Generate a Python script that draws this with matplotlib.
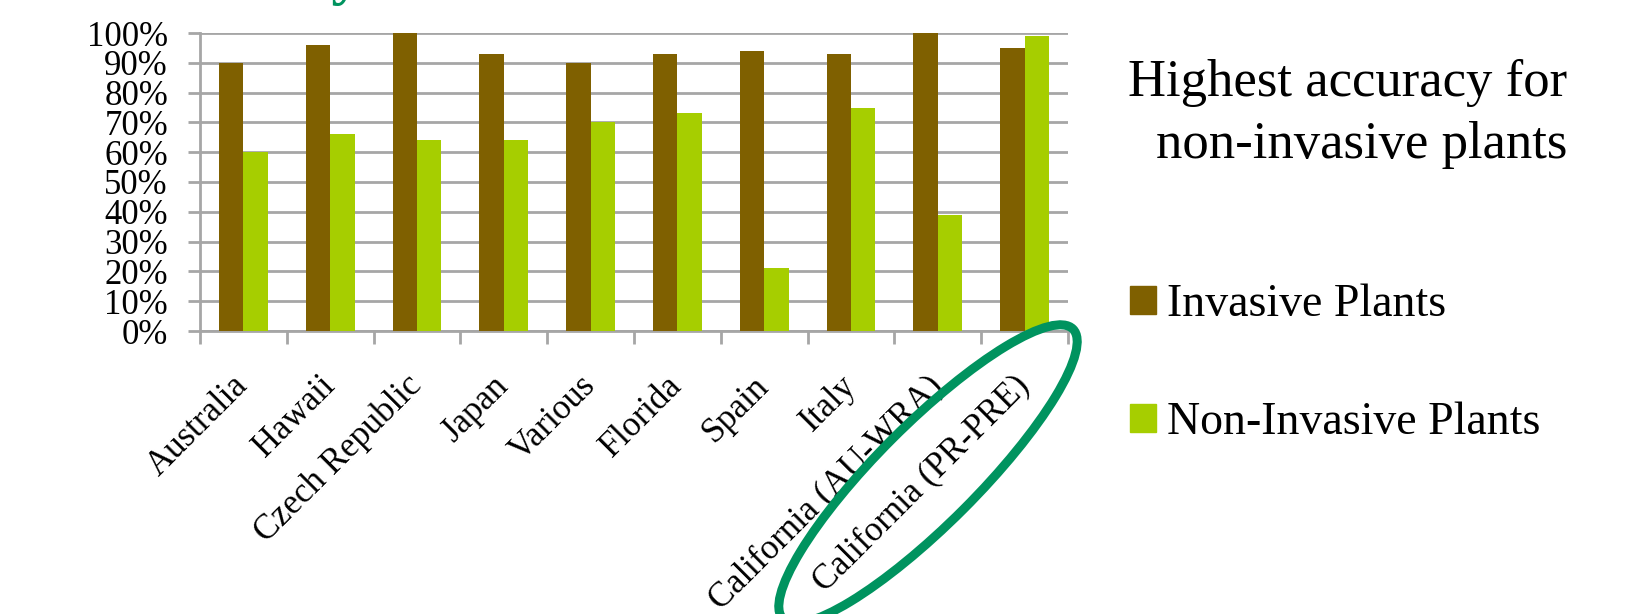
import numpy as np
import matplotlib.pyplot as plt
from matplotlib.patches import Ellipse, Patch
from matplotlib.transforms import IdentityTransform

regions = ["Australia", "Hawaii", "Czech Republic", "Japan", "Various",
           "Florida", "Spain", "Italy", "California (AU-WRA)",
           "California (PR-PRE)"]
invasive = [90, 96, 100, 93, 90, 93, 94, 93, 100, 95]
non_invasive = [60, 66, 64, 64, 70, 73, 21, 75, 39, 99]
y_ticks = [0, 10, 20, 30, 40, 50, 60, 70, 80, 90, 100]

brown = "#7F6000"
lime = "#A6CE00"
grid_gray = "#A6A6A6"
ring_green = "#00935F"

plt.rcParams["font.family"] = ["Liberation Serif", "DejaVu Serif"]

W, H = 1627, 614
fig = plt.figure(figsize=(W / 100, H / 100), dpi=100)
ax = fig.add_axes([200 / W, (H - 331) / H, 868 / W, 298 / H])

x = np.arange(len(regions))
bw = 0.28
ax.bar(x - bw / 2, invasive, bw, color=brown, zorder=3)
ax.bar(x + bw / 2, non_invasive, bw, color=lime, zorder=3)

ax.set_xlim(-0.5, len(regions) - 0.5)
ax.set_ylim(0, 100)
ax.set_yticks(y_ticks)
ax.set_yticklabels([f"{v}%" for v in y_ticks], fontsize=25)
ax.yaxis.grid(True, color=grid_gray, linewidth=2, zorder=0)
ax.tick_params(axis="y", length=9, width=2, color=grid_gray, pad=14)

# category ticks sit between groups, labels at the group centres
ax.set_xticks(np.arange(len(regions) + 1) - 0.5)
ax.set_xticklabels([])
ax.set_xticks(x, minor=True)
ax.set_xticklabels(regions, minor=True, rotation=45, ha="right",
                   va="center", rotation_mode="anchor", fontsize=25)
ax.tick_params(axis="x", which="major", length=9, width=2, color=grid_gray)
ax.tick_params(axis="x", which="minor", length=0, pad=36)

for s in ["top", "right"]:
    ax.spines[s].set_visible(False)
for s in ["left", "bottom"]:
    ax.spines[s].set_color(grid_gray)
    ax.spines[s].set_linewidth(2)

# cut-off slide title at the very top
fig.text(362 / W, (H + 7) / H, "Accuracy", color=ring_green, fontsize=44,
         fontweight="bold", ha="right", va="baseline")

fig.text(1567 / W, (H - 114) / H, "Highest accuracy for\nnon-invasive plants",
         fontsize=38, ha="right", va="center", linespacing=1.4)

handles = [Patch(color=brown, label="Invasive Plants"),
           Patch(color=lime, label="Non-Invasive Plants")]
fig.legend(handles=handles, loc="center left",
           bbox_to_anchor=(1112 / W, (H - 364) / H), frameon=False,
           fontsize=33, handlelength=0.55, handleheight=0.55,
           handletextpad=0.25, labelspacing=1.65, borderaxespad=0)

ring = Ellipse((928, H - 474), 410, 100, angle=45, transform=IdentityTransform(),
               fill=False, edgecolor=ring_green, linewidth=6.5, clip_on=False)
fig.patches.append(ring)

fig.savefig("out.png", dpi=100)
